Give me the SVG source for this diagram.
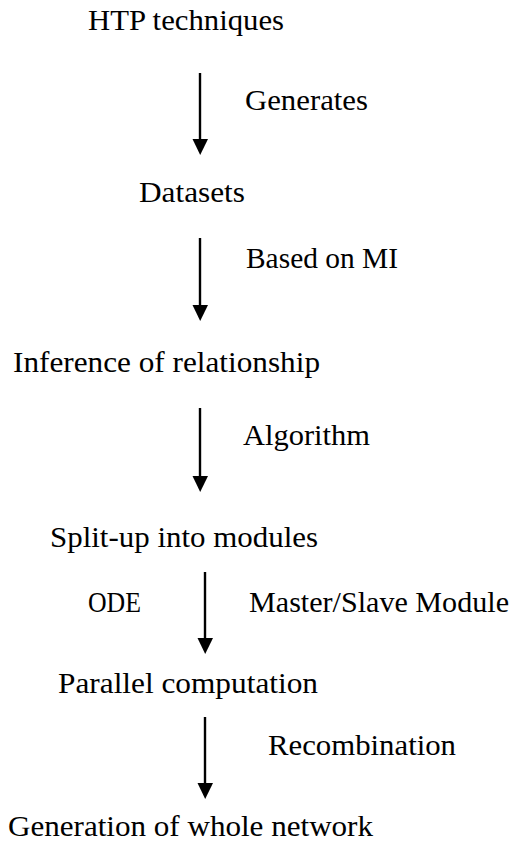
<svg xmlns="http://www.w3.org/2000/svg" width="520" height="842" viewBox="0 0 520 842">
<style>
text{font-family:"Liberation Serif","DejaVu Serif",serif;font-size:30px;fill:#000}
.c{stroke:#000;stroke-width:2.4;fill:none}
.h{fill:#000;stroke:none}
</style>
<rect width="520" height="842" fill="#fff"/>
<g id="connectors">
<line class="c" x1="200" y1="73" x2="200" y2="140"/><polygon class="h" points="192.5,139 208,139 200.2,155"/>
<line class="c" x1="200" y1="238" x2="200" y2="306"/><polygon class="h" points="192.5,305 208,305 200.2,321"/>
<line class="c" x1="200" y1="408" x2="200" y2="477"/><polygon class="h" points="192.5,476 208,476 200.2,492"/>
<line class="c" x1="205" y1="572" x2="205" y2="639"/><polygon class="h" points="197.5,638 213,638 205.2,654"/>
<line class="c" x1="205" y1="717" x2="205" y2="784"/><polygon class="h" points="197.5,783 213,783 205.2,799"/>
<text x="245" y="110" textLength="123" lengthAdjust="spacingAndGlyphs">Generates</text>
<text x="246" y="268" textLength="152" lengthAdjust="spacingAndGlyphs">Based on MI</text>
<text x="243" y="445" textLength="127" lengthAdjust="spacingAndGlyphs">Algorithm</text>
<text x="88" y="612" textLength="53" lengthAdjust="spacingAndGlyphs">ODE</text>
<text x="249" y="612" textLength="260" lengthAdjust="spacingAndGlyphs">Master/Slave Module</text>
<text x="268" y="755" textLength="188" lengthAdjust="spacingAndGlyphs">Recombination</text>
</g>
<g id="n1"><text x="88" y="30" textLength="196" lengthAdjust="spacingAndGlyphs">HTP techniques</text></g>
<g id="n2"><text x="139" y="202" textLength="106" lengthAdjust="spacingAndGlyphs">Datasets</text></g>
<g id="n3"><text x="13" y="372" textLength="307" lengthAdjust="spacingAndGlyphs">Inference of relationship</text></g>
<g id="n4"><text x="50" y="547" textLength="268" lengthAdjust="spacingAndGlyphs">Split-up into modules</text></g>
<g id="n5"><text x="58" y="693" textLength="260" lengthAdjust="spacingAndGlyphs">Parallel computation</text></g>
<g id="n6"><text x="8" y="836" textLength="365" lengthAdjust="spacingAndGlyphs">Generation of whole network</text></g>
</svg>
